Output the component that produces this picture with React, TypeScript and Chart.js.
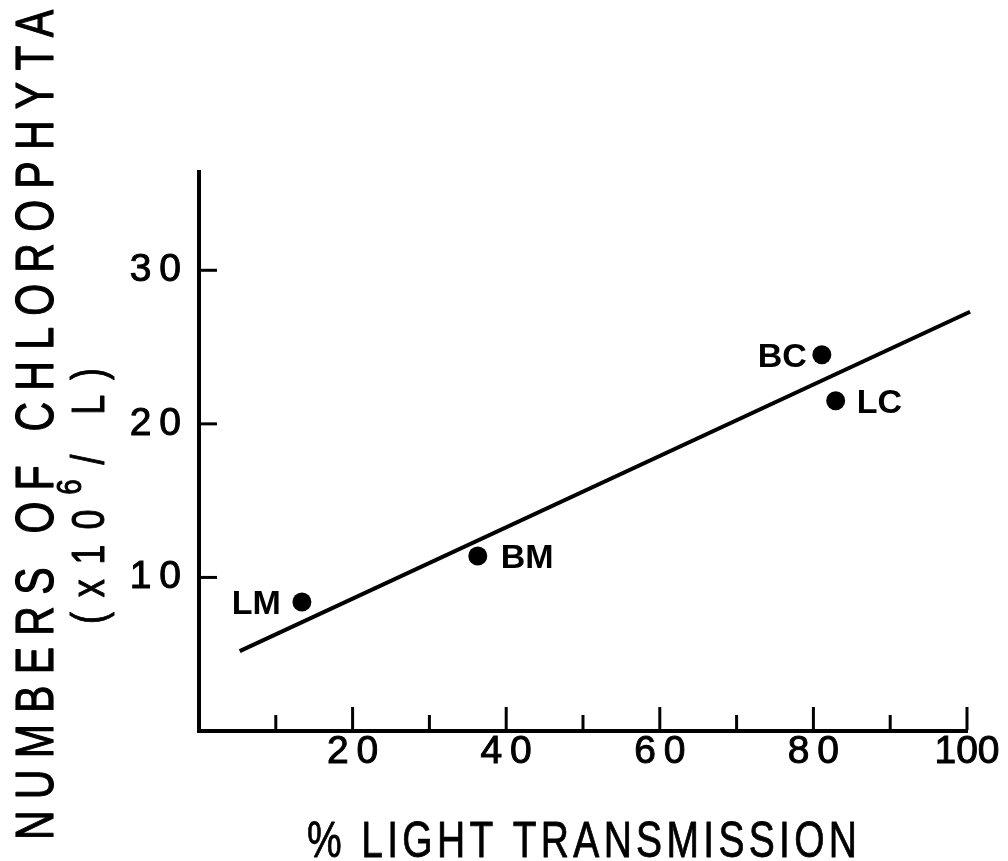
import React, { useEffect, useRef } from 'react';
import { Chart, registerables } from 'chart.js';

Chart.register(...registerables);

// Sampling stations: light transmission (%) vs. Chlorophyta counts (x10^6 / L)
const stationNames = ['LM', 'BM', 'BC', 'LC'];
const lightTransmission = [13.4, 36.3, 81.1, 82.9];
const chlorophytaCount = [8.4, 11.4, 24.5, 21.5];

// Fitted regression line end points
const fitLineX = [5.3, 100.4];
const fitLineY = [5.2, 27.3];

// Axis ticks
const xTickValues = [0, 10, 20, 30, 40, 50, 60, 70, 80, 90, 100];
const xTickLabels = ['', '', '20', '', '40', '', '60', '', '80', '', '100'];
const yTickValues = [10, 20, 30];
const yTickLabels = ['10', '20', '30'];

const xTitle = '% LIGHT TRANSMISSION';
const yTitle = 'NUMBERS OF CHLOROPHYTA';
const yUnitRuns = [
  { text: '(x10', scale: 1, rise: 0 },
  { text: '6', scale: 0.78, rise: 0.72 },
  { text: '/ L)', scale: 1, rise: 0 },
];

const SANS = '"Liberation Sans", Arial, Helvetica, sans-serif';
const INK = '#000';

// Two-digit labels are set with a little tracking
const tracked = (s: string) => (s.length === 2 ? s.split('').join('\u2009') : s);

// Label placement beside each station marker (horizontal offset from centre)
const LABEL_OFFSET: Record<string, number> = { LM: -21, BM: 23, BC: -15, LC: 21 };

type Run = { text: string; scale: number; rise: number };

function drawRuns(
  ctx: CanvasRenderingContext2D,
  runs: Run[],
  cx: number,
  cy: number,
  span: number,
  size: number,
  squeeze: number,
  vertical: boolean,
  weight: number
) {
  ctx.save();
  ctx.translate(cx, cy);
  if (vertical) ctx.rotate(-Math.PI / 2);
  ctx.scale(squeeze, 1);
  ctx.fillStyle = INK;
  ctx.strokeStyle = INK;
  ctx.lineWidth = weight;
  ctx.lineJoin = 'round';
  ctx.textAlign = 'left';
  ctx.textBaseline = 'alphabetic';
  const c: any = ctx;
  let natural = 0;
  let chars = 0;
  const widths: number[] = [];
  runs.forEach((r) => {
    ctx.font = `${size * r.scale}px ${SANS}`;
    c.letterSpacing = '0px';
    const w = ctx.measureText(r.text).width;
    widths.push(w);
    natural += w;
    chars += Array.from(r.text).length;
  });
  const localSpan = span / squeeze;
  const spacing = (localSpan - natural) / Math.max(1, chars - 1);
  const cap = size * 0.716;
  let x = -localSpan / 2;
  runs.forEach((r, i) => {
    ctx.font = `${size * r.scale}px ${SANS}`;
    c.letterSpacing = `${spacing}px`;
    const y = cap / 2 - r.rise * cap;
    ctx.fillText(r.text, x, y);
    if (weight > 0) ctx.strokeText(r.text, x, y);
    x += widths[i] + spacing * Array.from(r.text).length;
  });
  c.letterSpacing = '0px';
  ctx.restore();
}

const decorPlugin = {
  id: 'decor',
  afterDraw(chart: any) {
    const { ctx, chartArea, scales } = chart;
    const xs = scales.x;
    const ys = scales.y;

    // Inward tick marks
    ctx.save();
    ctx.strokeStyle = INK;
    ctx.lineWidth = 3;
    ctx.lineCap = 'butt';
    const base = chartArea.bottom - 1;
    xTickValues.forEach((v) => {
      if (v === 0) return;
      const px = xs.getPixelForValue(v);
      const len = v % 20 === 0 ? 23 : 15;
      ctx.beginPath();
      ctx.moveTo(px, base);
      ctx.lineTo(px, base - len);
      ctx.stroke();
    });
    yTickValues.forEach((v) => {
      const py = ys.getPixelForValue(v);
      ctx.beginPath();
      ctx.moveTo(chartArea.left, py);
      ctx.lineTo(chartArea.left + 18, py);
      ctx.stroke();
    });
    ctx.restore();

    // Station labels
    const meta = chart.getDatasetMeta(0);
    ctx.save();
    ctx.fillStyle = INK;
    ctx.font = `bold 34px ${SANS}`;
    ctx.textBaseline = 'alphabetic';
    meta.data.forEach((pt: any, i: number) => {
      const name = stationNames[i];
      const off = LABEL_OFFSET[name] ?? 20;
      ctx.textAlign = off < 0 ? 'right' : 'left';
      ctx.fillText(name, pt.x + off, pt.y + 34 * 0.358);
    });
    ctx.restore();

    // Axis titles
    drawRuns(ctx, [{ text: xTitle, scale: 1, rise: 0 }], 582, 839, 550, 50, 0.78, false, 0.8);
    drawRuns(ctx, [{ text: yTitle, scale: 1, rise: 0 }], 34, 425, 830, 54, 0.76, true, 1.2);
    drawRuns(ctx, yUnitRuns, 88, 496, 256, 46, 0.78, true, 1.0);
  },
};

export default function App() {
  const canvasRef = useRef<HTMLCanvasElement | null>(null);

  useEffect(() => {
    const canvas = canvasRef.current;
    if (!canvas) return;
    const chart = new Chart(canvas, {
      type: 'scatter',
      data: {
        datasets: [
          {
            label: 'Stations',
            data: lightTransmission.map((x, i) => ({ x, y: chlorophytaCount[i] })),
            pointRadius: 9.5,
            pointBackgroundColor: INK,
            pointBorderColor: INK,
            pointBorderWidth: 0,
            showLine: false,
          },
          {
            label: 'Fit',
            data: fitLineX.map((x, i) => ({ x, y: fitLineY[i] })),
            showLine: true,
            borderColor: INK,
            borderWidth: 4,
            pointRadius: 0,
            clip: false as any,
          },
        ],
      },
      options: {
        animation: false,
        responsive: false,
        events: [],
        layout: { padding: { left: 0, top: 172, right: 41, bottom: 0 } },
        plugins: {
          legend: { display: false },
          tooltip: { enabled: false },
          title: { display: false },
        },
        scales: {
          x: {
            type: 'linear',
            min: 0,
            max: 100,
            grid: { display: false },
            border: { display: true, color: INK, width: 4 },
            afterBuildTicks: (scale: any) => {
              scale.ticks = xTickValues.map((value) => ({ value }));
            },
            afterFit: (scale: any) => {
              scale.height = 130;
            },
            ticks: {
              autoSkip: false,
              maxRotation: 0,
              padding: -10,
              color: INK,
              textStrokeColor: INK,
              textStrokeWidth: 1,
              font: { family: SANS, size: 39 },
              callback: (_v: any, i: number) => tracked(xTickLabels[i] ?? ''),
            },
          },
          y: {
            type: 'linear',
            min: 0,
            max: 36.4,
            grid: { display: false },
            border: { display: true, color: INK, width: 4 },
            afterBuildTicks: (scale: any) => {
              scale.ticks = yTickValues.map((value) => ({ value }));
            },
            afterFit: (scale: any) => {
              scale.width = 199;
            },
            ticks: {
              autoSkip: false,
              padding: 10,
              color: INK,
              textStrokeColor: INK,
              textStrokeWidth: 1,
              font: { family: SANS, size: 39 },
              callback: (_v: any, i: number) => tracked(yTickLabels[i] ?? ''),
            },
          },
        },
      },
      plugins: [decorPlugin],
    });
    return () => chart.destroy();
  }, []);

  return (
    <div style={{ position: 'absolute', left: 0, top: 0, width: 1008, height: 861, background: '#fff' }}>
      <canvas ref={canvasRef} width={1008} height={861} style={{ display: 'block' }} />
    </div>
  );
}
